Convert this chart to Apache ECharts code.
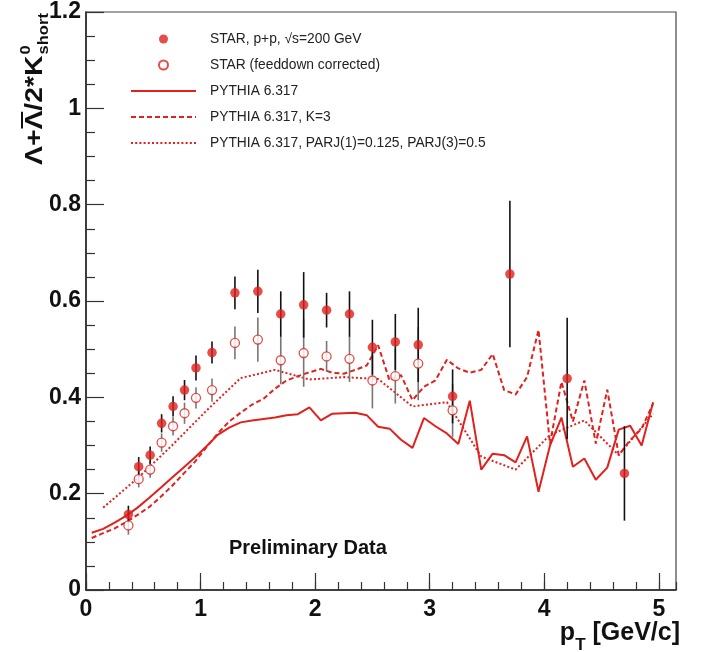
<!DOCTYPE html>
<html>
<head>
<meta charset="utf-8">
<script src="https://cdn.jsdelivr.net/npm/echarts@6/dist/echarts.min.js"></script>
<style>
  html, body { margin: 0; padding: 0; background: #fff; }
  #chart { width: 709px; height: 652px; }
</style>
</head>
<body>
<div id="chart"></div>
<script>
// Λ+Λbar / 2K0s ratio vs pT — STAR p+p 200 GeV and PYTHIA 6.317 curves

const RED  = '#e0211d';
const FONT = '"Liberation Sans", Arial, sans-serif';

// ── data ─────────────────────────────────────────────────────────────
// STAR, p+p, √s=200 GeV (filled)
const starPt  = [0.37, 0.46, 0.56, 0.66, 0.76, 0.86, 0.96, 1.1, 1.3, 1.5, 1.7, 1.9, 2.1, 2.3, 2.5, 2.7, 2.9, 3.2, 3.7, 4.2, 4.7];
const starVal = [0.157, 0.256, 0.280, 0.346, 0.381, 0.415, 0.461, 0.493, 0.617, 0.620, 0.573, 0.592, 0.581, 0.573, 0.504, 0.515, 0.509, 0.402, 0.656, 0.439, 0.242];
const starErr = [0.018, 0.020, 0.018, 0.019, 0.021, 0.021, 0.026, 0.023, 0.034, 0.045, 0.047, 0.068, 0.036, 0.047, 0.057, 0.058, 0.077, 0.056, 0.152, 0.126, 0.098];

// STAR (feeddown corrected) (open)
const fdPt  = [0.37, 0.46, 0.56, 0.66, 0.76, 0.86, 0.96, 1.1, 1.3, 1.5, 1.7, 1.9, 2.1, 2.3, 2.5, 2.7, 2.9, 3.2];
const fdVal = [0.134, 0.230, 0.250, 0.306, 0.340, 0.367, 0.399, 0.415, 0.513, 0.520, 0.477, 0.492, 0.485, 0.480, 0.435, 0.444, 0.470, 0.373];
const fdErr = [0.019, 0.017, 0.017, 0.019, 0.019, 0.022, 0.022, 0.024, 0.034, 0.046, 0.050, 0.070, 0.032, 0.048, 0.058, 0.057, 0.076, 0.055];

// PYTHIA 6.317 bins (0.1 wide)
const pyX = [0.05, 0.15, 0.25, 0.35, 0.45, 0.55, 0.65, 0.75, 0.85, 0.95,
             1.05, 1.15, 1.25, 1.35, 1.45, 1.55, 1.65, 1.75, 1.85, 1.95,
             2.05, 2.15, 2.25, 2.35, 2.45, 2.55, 2.65, 2.75, 2.85, 2.95,
             3.05, 3.15, 3.25, 3.35, 3.45, 3.55, 3.65, 3.75, 3.85, 3.95,
             4.05, 4.15, 4.25, 4.35, 4.45, 4.55, 4.65, 4.75, 4.85, 4.95];
const pyStd = [0.119, 0.127, 0.140, 0.154, 0.171, 0.191, 0.212, 0.233, 0.254, 0.275,
               0.298, 0.322, 0.337, 0.348, 0.352, 0.355, 0.358, 0.363, 0.365, 0.379,
               0.352, 0.366, 0.367, 0.368, 0.363, 0.339, 0.335, 0.312, 0.295, 0.357,
               0.340, 0.325, 0.303, 0.393, 0.250, 0.283, 0.280, 0.265, 0.319, 0.204,
               0.300, 0.358, 0.256, 0.273, 0.229, 0.254, 0.333, 0.341, 0.300, 0.390];
const pyK3  = [0.108, 0.118, 0.128, 0.141, 0.156, 0.172, 0.193, 0.216, 0.241, 0.266,
               0.296, 0.325, 0.350, 0.368, 0.385, 0.397, 0.418, 0.435, 0.444, 0.452,
               0.459, 0.451, 0.449, 0.457, 0.466, 0.508, 0.435, 0.446, 0.394, 0.422,
               0.435, 0.478, 0.460, 0.451, 0.457, 0.490, 0.415, 0.406, 0.442, 0.540,
               0.304, 0.432, 0.350, 0.435, 0.304, 0.416, 0.280, 0.311, 0.335, 0.387];

// PYTHIA 6.317, PARJ tune (0.3 wide bins)
const parjX   = [0.15, 0.45, 0.75, 1.05, 1.35, 1.65, 1.95, 2.25, 2.55, 2.85, 3.15, 3.45, 3.75, 4.05, 4.35, 4.65, 4.95];
const parjVal = [0.171, 0.232, 0.300, 0.372, 0.440, 0.457, 0.437, 0.442, 0.438, 0.381, 0.390, 0.277, 0.250, 0.322, 0.352, 0.280, 0.366];

const names = [
  'STAR, p+p, √s=200 GeV',
  'STAR (feeddown corrected)',
  'PYTHIA 6.317',
  'PYTHIA 6.317, K=3',
  'PYTHIA 6.317, PARJ(1)=0.125, PARJ(3)=0.5',
];

// ── helpers ──────────────────────────────────────────────────────────
const zip = (xs, ys) => xs.map((x, i) => [x, ys[i]]);
const cv = document.createElement('canvas').getContext('2d');
const tw = (font, s) => { cv.font = font; return cv.measureText(s).width; };

function errBars(name, xs, ys, es, color) {
  return {
    name, type: 'custom', z: 3, silent: true,
    data: xs.map((x, i) => [x, ys[i] - es[i], ys[i] + es[i]]),
    encode: { x: 0, y: [1, 2] },
    renderItem(params, api) {
      const a = api.coord([api.value(0), api.value(1)]);
      const b = api.coord([api.value(0), api.value(2)]);
      return {
        type: 'line',
        shape: { x1: a[0], y1: a[1], x2: b[0], y2: b[1] },
        style: { stroke: color, lineWidth: 1.6 },
      };
    },
  };
}

// ── axis titles as graphic text ──────────────────────────────────────
const fMain = 'bold 24px ' + FONT;
const fSub  = 'bold 14px ' + FONT;
const wLam  = tw(fMain, 'Λ+');
const wLam2 = tw(fMain, 'Λ+Λ');
const wMain = tw(fMain, 'Λ+Λ/2*K');

const yTitle = {
  type: 'group', x: 47, y: 165, rotation: Math.PI / 2, scaleX: 1.18,
  children: [
    { type: 'text', style: { text: 'Λ+Λ/2*K', x: 0, y: 0, font: fMain, fill: '#111', verticalAlign: 'bottom' } },
    { type: 'line', shape: { x1: wLam + 1, y1: -25, x2: wLam2 - 1, y2: -25 }, style: { stroke: '#111', lineWidth: 2 } },
    { type: 'text', style: { text: 'short', x: wMain + 1, y: 4, font: fSub, fill: '#111', verticalAlign: 'bottom' } },
    { type: 'text', style: { text: '0', x: wMain + 1, y: -14, font: fSub, fill: '#111', verticalAlign: 'bottom' } },
  ],
};

const fX   = 'bold 25px ' + FONT;
const fXs  = 'bold 17px ' + FONT;
const wP   = tw(fX, 'p');
const wT   = tw(fXs, 'T');
const wRest = tw(fX, ' [GeV/c]');
const xStart = 680 - (wP + wT + wRest);
const xTitle = {
  type: 'group', x: xStart, y: 646,
  children: [
    { type: 'text', style: { text: 'p', x: 0, y: 0, font: fX, fill: '#111', verticalAlign: 'bottom' } },
    { type: 'text', style: { text: 'T', x: wP, y: 8, font: fXs, fill: '#111', verticalAlign: 'bottom' } },
    { type: 'text', style: { text: ' [GeV/c]', x: wP + wT, y: 0, font: fX, fill: '#111', verticalAlign: 'bottom' } },
  ],
};

// ── chart ────────────────────────────────────────────────────────────
const chart = echarts.init(document.getElementById('chart'));

const tickLine = { color: '#333', width: 1.2 };
const labelStyle = { color: '#111', fontFamily: FONT, fontWeight: 'bold', fontSize: 23 };
// line legend icons: hide the marker ECharts puts in the middle
const noDot = { opacity: 0 };

chart.setOption({
  animation: false,
  backgroundColor: '#fff',
  grid: { left: 86, right: 33, top: 12, bottom: 62, show: true, borderColor: '#444', borderWidth: 1.2 },
  legend: {
    data: [
      { name: names[0] },
      { name: names[1] },
      { name: names[2], itemStyle: noDot },
      { name: names[3], itemStyle: noDot },
      { name: names[4], itemStyle: noDot },
    ],
    orient: 'vertical', left: 130, top: 32, padding: 0,
    itemWidth: 65, itemHeight: 9, itemGap: 12, selectedMode: false,
    textStyle: { fontFamily: FONT, fontSize: 13.8, color: '#222', lineHeight: 14, padding: [0, 0, 0, 9] },
  },
  xAxis: [
    {
      type: 'value', min: 0, max: 5.15, interval: 1,
      axisLine: { onZero: false, lineStyle: { color: '#222', width: 1.5 } },
      axisTick: { inside: true, length: 17, lineStyle: tickLine },
      axisLabel: { ...labelStyle, margin: 8, showMaxLabel: false },
      splitLine: { show: false },
    },
    {
      type: 'value', min: 0, max: 5.15, interval: 0.2, position: 'bottom',
      axisLine: { show: false },
      axisTick: { inside: true, length: 8, lineStyle: tickLine },
      axisLabel: { show: false },
      splitLine: { show: false },
    },
  ],
  yAxis: {
    type: 'value', min: 0, max: 1.2, interval: 0.2,
    axisLine: { show: true, lineStyle: { color: '#222', width: 1.5 } },
    axisTick: { inside: true, length: 18, lineStyle: tickLine },
    minorTick: { show: true, splitNumber: 4, length: 9, lineStyle: tickLine },
    axisLabel: { ...labelStyle, margin: 5 },
    splitLine: { show: false },
  },
  series: [
    {
      name: names[2], type: 'line', data: zip(pyX, pyStd), symbol: 'none', z: 2,
      itemStyle: { color: RED }, lineStyle: { color: RED, width: 2 },
    },
    {
      name: names[3], type: 'line', data: zip(pyX, pyK3), symbol: 'none', z: 2,
      itemStyle: { color: RED }, lineStyle: { color: RED, width: 2, type: [5, 3] },
    },
    {
      name: names[4], type: 'line', data: zip(parjX, parjVal), symbol: 'none', z: 2,
      itemStyle: { color: RED }, lineStyle: { color: RED, width: 2, type: [2, 2.2] },
    },
    errBars('err-fd', fdPt, fdVal, fdErr, '#777'),
    errBars('err-star', starPt, starVal, starErr, '#111'),
    {
      name: names[1], type: 'scatter', data: zip(fdPt, fdVal), symbol: 'circle', symbolSize: 9, z: 4,
      itemStyle: { color: '#fff', borderColor: RED, borderWidth: 1.3 },
    },
    {
      name: names[0], type: 'scatter', data: zip(starPt, starVal), symbol: 'circle', symbolSize: 9.5, z: 5,
      itemStyle: { color: RED },
    },
  ],
  graphic: [
    yTitle,
    xTitle,
    { type: 'text', x: 229, y: 548, style: { text: 'Preliminary Data', font: 'bold 20px ' + FONT, fill: '#111', verticalAlign: 'middle' } },
  ],
});
</script>
</body>
</html>
